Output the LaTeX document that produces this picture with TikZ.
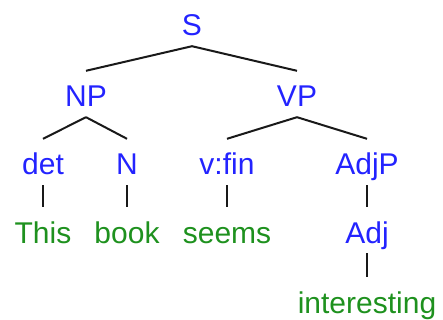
\documentclass[tikz,border=0pt]{standalone}
\usepackage{fontspec}
\setmainfont{Liberation Sans}
\definecolor{catblue}{RGB}{35,35,255}
\definecolor{wordgreen}{RGB}{30,145,30}
\begin{document}
\begin{tikzpicture}[x=1pt,y=-1pt,
  lbl/.style={anchor=base,inner xsep=0pt,inner ysep=0pt,text height=36pt,text depth=10pt,font=\fontsize{30}{36}\selectfont},
  cat/.style={lbl,text=catblue},
  word/.style={lbl,text=wordgreen},
  edge/.style={line width=2pt,black!90}]
\useasboundingbox (0,0) rectangle (443,320);
\node[cat] (S) at (192,36) {S};
\node[cat] (NP) at (86,107) {NP};
\node[cat] (VP) at (297,107) {VP};
\node[cat] (det) at (43,175) {det};
\node[cat] (N) at (127,175) {N};
\node[cat] (vfin) at (227,175) {v:fin};
\node[cat] (AdjP) at (367,175) {AdjP};
\node[word] (This) at (43,243) {This};
\node[word] (book) at (127,243) {book};
\node[word] (seems) at (227,243) {seems};
\node[cat] (Adj) at (367,243) {Adj};
\node[word] (interesting) at (367,313) {interesting};
\draw[edge] (S.south) -- (NP.north);
\draw[edge] (S.south) -- (VP.north);
\draw[edge] (NP.south) -- (det.north);
\draw[edge] (NP.south) -- (N.north);
\draw[edge] (VP.south) -- (vfin.north);
\draw[edge] (VP.south) -- (AdjP.north);
\draw[edge] (det.south) -- (This.north);
\draw[edge] (N.south) -- (book.north);
\draw[edge] (vfin.south) -- (seems.north);
\draw[edge] (AdjP.south) -- (Adj.north);
\draw[edge] (Adj.south) -- (interesting.north);
\end{tikzpicture}
\end{document}
